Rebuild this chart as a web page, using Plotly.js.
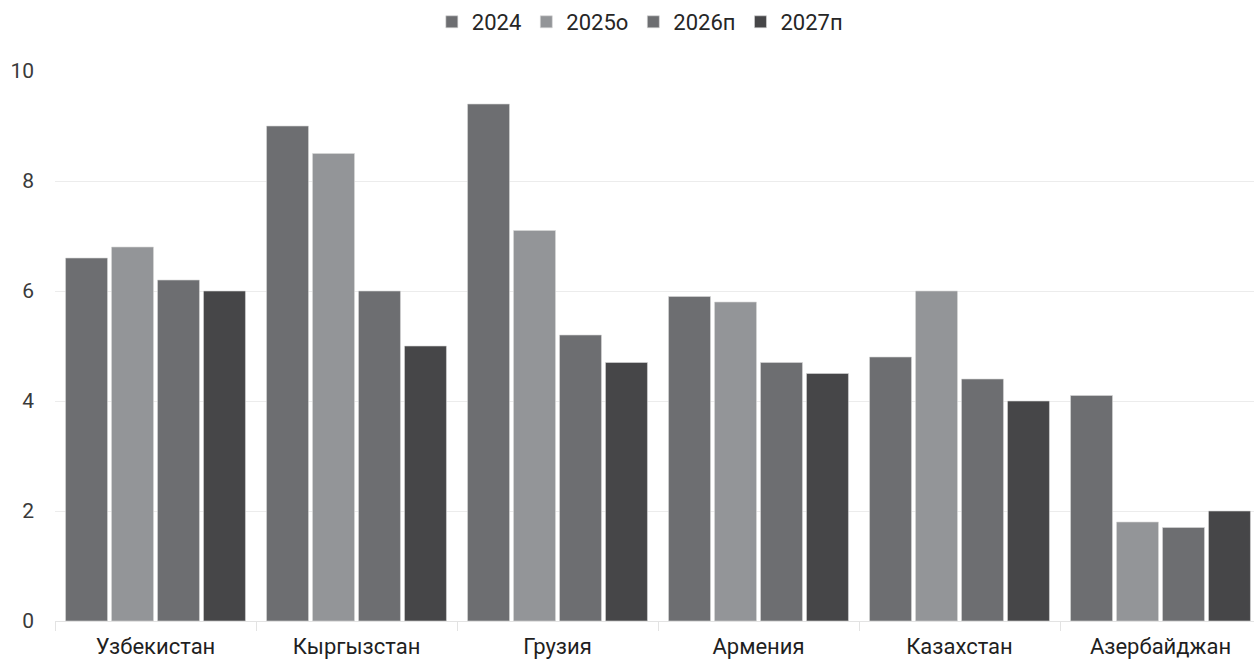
<!DOCTYPE html>
<html><head><meta charset="utf-8">
<script src="https://cdn.plot.ly/plotly-3.0.1.min.js"></script>
<style>html,body{margin:0;padding:0;overflow:hidden;background:#fff}#chart{width:1262px;height:659px}</style>
</head><body><div id="chart"></div>
<script>
const categories = ["Узбекистан","Кыргызстан","Грузия","Армения","Казахстан","Азербайджан"];
const seriesNames = ["2024","2025о","2026п","2027п"];
const v2024 = [6.6, 9.0, 9.4, 5.9, 4.8, 4.1];
const v2025 = [6.8, 8.5, 7.1, 5.8, 6.0, 1.8];
const v2026 = [6.2, 6.0, 5.2, 4.7, 4.4, 1.7];
const v2027 = [6.0, 5.0, 4.7, 4.5, 4.0, 2.0];
const yTicks = [0, 2, 4, 6, 8, 10];

const colors = ["#6d6e71", "#939598", "#6d6e71", "#464648"];
const values = [v2024, v2025, v2026, v2027];
const FONT = "Roboto, 'Liberation Sans', Arial, sans-serif";

const traces = values.map((vals, i) => ({
  type: "bar", x: categories, y: vals, name: seriesNames[i],
  marker: {color: colors[i], line: {color: "#d9d9d9", width: 0.6}},
  hoverinfo: "x+y"
}));

Plotly.newPlot("chart", traces, {
  width: 1262, height: 659,
  margin: {l: 55, r: 1, t: 71, b: 38},
  paper_bgcolor: "#fff", plot_bgcolor: "#fff",
  barmode: "group", bargap: 0.085, bargroupgap: 0.087,
  font: {family: FONT, color: "#2b2b2b"},
  showlegend: true,
  legend: {orientation: "h", xref: "container", yref: "container", x: 0.507, xanchor: "center",
           y: 1 - 22/659, yanchor: "middle",
           font: {size: 22, color: "#262626"}, itemwidth: 30, tracegroupgap: 0},
  xaxis: {type: "category", tickson: "boundaries", ticks: "outside", ticklen: 9,
          tickcolor: "#e3e3e3", showline: true, linecolor: "#e3e3e3", linewidth: 1,
          showgrid: false, ticklabelstandoff: 6, tickfont: {size: 22, color: "#1f1f1f"}, fixedrange: true},
  yaxis: {range: [0, 10], tickvals: yTicks, showgrid: true, gridcolor: "#ececec", gridwidth: 1,
          zeroline: false, showline: false, ticks: "", ticklabelstandoff: 20,
          tickfont: {size: 21, color: "#3a3a3a"}, fixedrange: true}
}, {displayModeBar: false, staticPlot: true});
</script></body></html>
